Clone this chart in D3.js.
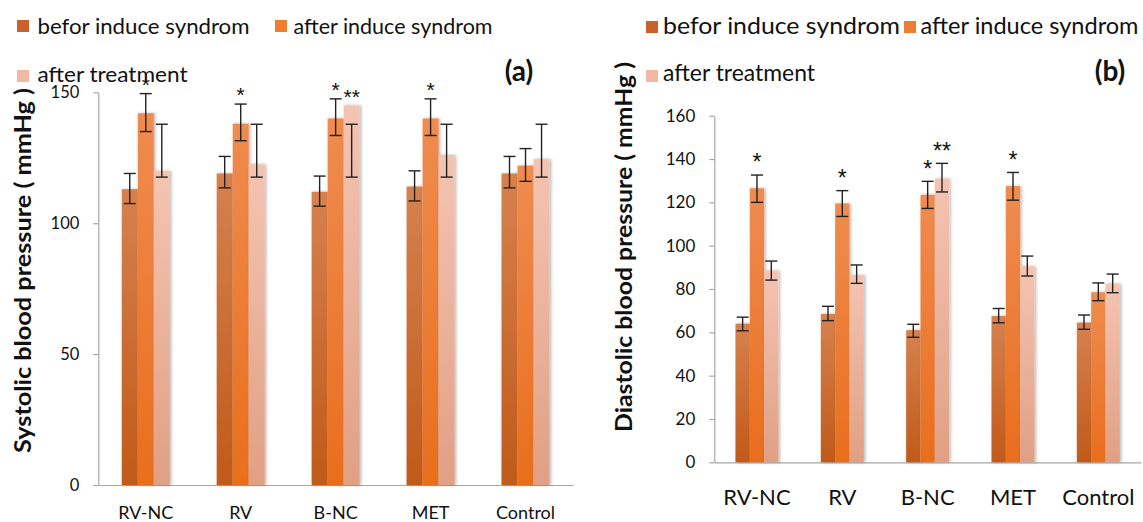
<!DOCTYPE html>
<html><head><meta charset="utf-8">
<script src="https://cdn.jsdelivr.net/npm/d3@7/dist/d3.min.js"></script>
<style>
body{margin:0;background:#fff;}
svg{display:block;font-family:Lato,"Open Sans",sans-serif;}
</style>
</head><body>
<svg id="chart" width="1143" height="522"></svg>
<script>
// ---------- data ----------
const categories = ["RV-NC", "RV", "B-NC", "MET", "Control"];
const seriesNames = ["befor induce syndrom", "after induce syndrom", "after treatment"];

// (a) systolic
const sysBefore = [113, 119, 112, 114, 119];
const sysAfter  = [142, 138, 140, 140, 122];
const sysTreat  = [120, 122.5, 145, 126, 124.5];
const sysBeforeLo = [107.5, 113.5, 106.5, 108.5, 113.5];
const sysBeforeHi = [119, 125.5, 118, 120, 125.5];
const sysAfterLo  = [135, 131.5, 133.5, 133.5, 116];
const sysAfterHi  = [149.5, 145.5, 147.5, 147.5, 128.5];
const sysTreatLo  = [117.6, 117.6, 117.6, 117.6, 117.6];
const sysTreatHi  = [137.8, 137.8, 137.8, 137.8, 137.8];
const sysTicks = [0, 50, 100, 150];
const sigSysAfter = ["*", "*", "*", "*", ""];
const sigSysTreat = ["", "", "**", "", ""];

// (b) diastolic
const diaBefore = [64, 68.5, 61, 67.5, 64.5];
const diaAfter  = [126.5, 119.5, 123.5, 127.5, 78.5];
const diaTreat  = [88.5, 86.5, 131, 90.5, 82.5];
const diaBeforeLo = [60.7, 65.4, 57.7, 64.4, 61.4];
const diaBeforeHi = [67, 72, 63.7, 71, 68];
const diaAfterLo  = [120, 113.5, 117.2, 121, 74.6];
const diaAfterHi  = [132.6, 125.4, 129.7, 133.8, 82.8];
const diaTreatLo  = [84.1, 82.6, 124.8, 86, 78.3];
const diaTreatHi  = [92.9, 91.1, 138, 95.2, 86.9];
const diaTicks = [0, 20, 40, 60, 80, 100, 120, 140, 160];
const sigDiaAfter = ["*", "*", "*", "*", ""];
const sigDiaTreat = ["", "", "**", "", ""];

// ---------- styles ----------
const gradStops = [
  ["#d6814f", "#c05a19"],
  ["#ef8c50", "#e96e1d"],
  ["#f4c4b2", "#e0a084"]
];
const legendColors = ["#c9622a", "#ed7d31", "#f1b9a3"];

const svg = d3.select("#chart");
const defs = svg.append("defs");
gradStops.forEach((s, i) => {
  const g = defs.append("linearGradient").attr("id", "grad" + i)
    .attr("x1", 0).attr("y1", 0).attr("x2", 0).attr("y2", 1);
  g.append("stop").attr("offset", "0%").attr("stop-color", s[0]);
  g.append("stop").attr("offset", "100%").attr("stop-color", s[1]);
});
const f = defs.append("filter").attr("id", "shadow")
  .attr("x", "-50%").attr("y", "-10%").attr("width", "200%").attr("height", "120%");
f.append("feDropShadow").attr("dx", 1.5).attr("dy", 0).attr("stdDeviation", 1.8)
  .attr("flood-color", "#000").attr("flood-opacity", 0.28);

function panel(cfg) {
  const g = svg.append("g");
  const x = d3.scaleBand().domain(categories).range([cfg.x0, cfg.x1])
    .paddingInner(cfg.pad).paddingOuter(cfg.pad / 2);
  const xs = d3.scaleBand().domain([0, 1, 2]).range([0, x.bandwidth()]);
  const y = d3.scaleLinear().domain([0, cfg.ymax]).range([cfg.y0, cfg.y1]);

  // y axis
  const ya = g.append("g").attr("transform", `translate(${cfg.x0},0)`)
    .call(d3.axisLeft(y).tickValues(cfg.ticks).tickSize(5).tickSizeOuter(0).tickPadding(14));
  ya.select(".domain").attr("stroke", "#a6a6a6").attr("stroke-width", 1.2);
  ya.selectAll(".tick line").attr("stroke", "#a6a6a6").attr("stroke-width", 1.2);
  ya.selectAll(".tick text").attr("font-family", "Lato").attr("font-size", cfg.tickFs).attr("fill", "#111");
  ya.attr("font-family", null).attr("font-size", null);

  // x axis
  const xa = g.append("g").attr("transform", `translate(0,${cfg.y0})`)
    .call(d3.axisBottom(x).tickSize(0).tickSizeOuter(0));
  xa.attr("font-family", null).attr("font-size", null);
  xa.select(".domain").attr("stroke", "#a6a6a6").attr("stroke-width", 1.2);
  xa.selectAll(".tick text").attr("font-family", "Lato").attr("font-size", cfg.catFs)
    .attr("fill", "#111").attr("dy", null).attr("y", cfg.catBase);

  // bars
  cfg.series.forEach((vals, si) => {
    g.append("g").selectAll("rect").data(vals).join("rect")
      .attr("x", (d, i) => x(categories[i]) + xs(si))
      .attr("width", xs.bandwidth())
      .attr("y", d => y(d))
      .attr("height", d => y(0) - y(d))
      .attr("fill", `url(#grad${si})`)
      .attr("filter", "url(#shadow)");
  });
  // error bars
  cfg.series.forEach((vals, si) => {
    const lo = cfg.lo[si], hi = cfg.hi[si];
    const eg = g.append("g").attr("stroke", "#222").attr("stroke-width", 1.4).attr("fill", "none");
    vals.forEach((v, i) => {
      const cx = x(categories[i]) + xs(si) + xs.bandwidth() / 2;
      eg.append("line").attr("x1", cx).attr("x2", cx).attr("y1", y(lo[i])).attr("y2", y(hi[i]));
      eg.append("line").attr("x1", cx - cfg.cap / 2).attr("x2", cx + cfg.cap / 2).attr("y1", y(lo[i])).attr("y2", y(lo[i]));
      eg.append("line").attr("x1", cx - cfg.cap / 2).attr("x2", cx + cfg.cap / 2).attr("y1", y(hi[i])).attr("y2", y(hi[i]));
    });
  });
  // significance stars
  cfg.sig.forEach(([si, labels]) => {
    labels.forEach((t, i) => {
      if (!t) return;
      const top = Math.min(y(cfg.hi[si][i]), y(cfg.series[si][i]));
      const cx = x(categories[i]) + xs(si) + xs.bandwidth() / 2;
      g.append("text").attr("x", cx).attr("y", top - cfg.starGap + cfg.starFs * 0.58)
        .attr("text-anchor", "middle").attr("font-family", "Liberation Sans, Arial, sans-serif")
        .attr("font-size", cfg.starFs).attr("fill", "#111").text(t);
    });
  });

  // y title
  g.append("text").attr("transform", `translate(${cfg.titleX},${cfg.titleY}) rotate(-90)`)
    .attr("text-anchor", "middle").attr("font-family", "Lato").attr("font-weight", "bold")
    .attr("font-size", cfg.titleFs).attr("fill", "#111")
    .attr("textLength", cfg.titleLen).attr("lengthAdjust", "spacingAndGlyphs")
    .text(cfg.title);

  // legend
  cfg.legend.forEach((L, i) => {
    g.append("rect").attr("x", L.sx).attr("y", L.sy).attr("width", 12).attr("height", 12)
      .attr("fill", legendColors[i]);
    g.append("text").attr("x", L.tx).attr("y", L.ty).attr("font-family", "Lato")
      .attr("font-size", cfg.legFs).attr("fill", "#111")
      .attr("textLength", L.w).attr("lengthAdjust", "spacingAndGlyphs")
      .text(seriesNames[i]);
  });
  // panel label
  g.append("text").attr("x", cfg.labX).attr("y", cfg.labY).attr("text-anchor", "middle")
    .attr("font-family", "Lato").attr("font-weight", "bold").attr("font-size", 28)
    .attr("fill", "#111").text(cfg.label);
}

panel({
  x0: 98.3, x1: 573, y0: 485, y1: 92.3, ymax: 150, pad: 0.494,
  ticks: sysTicks, tickFs: 16.5, catFs: 18, catBase: 33.5,
  series: [sysBefore, sysAfter, sysTreat],
  lo: [sysBeforeLo, sysAfterLo, sysTreatLo],
  hi: [sysBeforeHi, sysAfterHi, sysTreatHi],
  sig: [[1, sigSysAfter], [2, sigSysTreat]],
  cap: 12, starFs: 21, starGap: 14,
  title: "Systolic blood pressure ( mmHg )", titleX: 31, titleY: 270.5, titleFs: 23, titleLen: 365,
  legFs: 22,
  legend: [
    {sx: 17, sy: 20, tx: 37.5, ty: 33.5, w: 212},
    {sx: 275, sy: 20, tx: 293.5, ty: 33.5, w: 199},
    {sx: 17, sy: 70, tx: 37.5, ty: 82, w: 150}
  ],
  label: "(a)", labX: 519, labY: 81
});

panel({
  x0: 714.3, x1: 1141, y0: 462.3, y1: 115.7, ymax: 160, pad: 0.496,
  ticks: diaTicks, tickFs: 17, catFs: 22, catBase: 42.7,
  series: [diaBefore, diaAfter, diaTreat],
  lo: [diaBeforeLo, diaAfterLo, diaTreatLo],
  hi: [diaBeforeHi, diaAfterHi, diaTreatHi],
  sig: [[1, sigDiaAfter], [2, sigDiaTreat]],
  cap: 12, starFs: 23, starGap: 18,
  title: "Diastolic blood pressure ( mmHg )", titleX: 632, titleY: 247, titleFs: 23, titleLen: 370,
  legFs: 23,
  legend: [
    {sx: 646, sy: 21, tx: 663, ty: 33.5, w: 237},
    {sx: 904, sy: 21, tx: 920.5, ty: 33.5, w: 218},
    {sx: 646, sy: 70, tx: 663, ty: 81, w: 152}
  ],
  label: "(b)", labX: 1110, labY: 81
});
</script>
</body></html>
